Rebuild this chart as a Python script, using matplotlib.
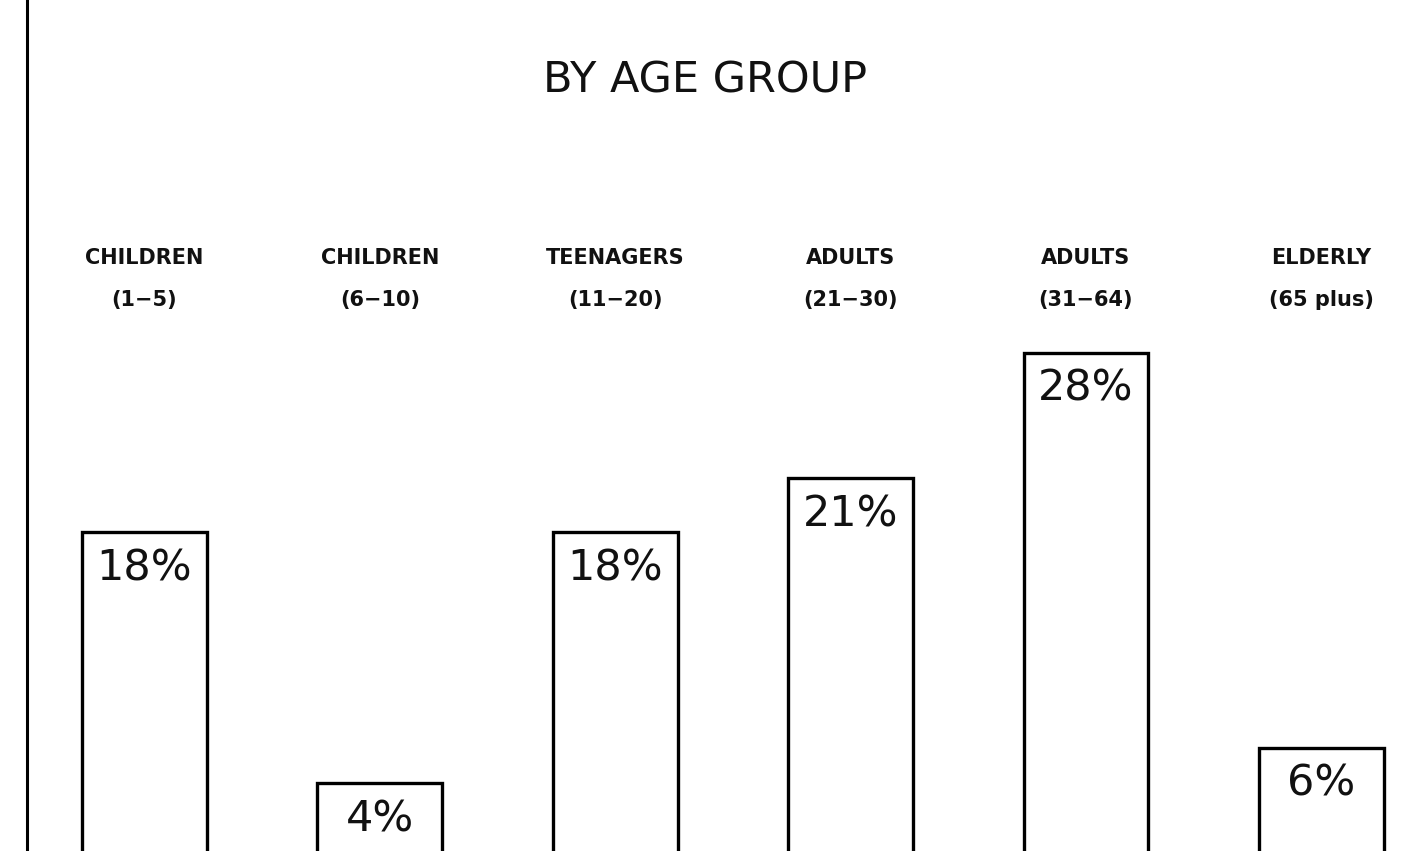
import matplotlib
matplotlib.use("Agg")
from matplotlib import pyplot as plt
from matplotlib import transforms as mtrans

groups = ['CHILDREN', 'CHILDREN', 'TEENAGERS', 'ADULTS', 'ADULTS', 'ELDERLY']
ages = ['(1\u22125)', '(6\u221210)', '(11\u221220)', '(21\u221230)', '(31\u221264)', '(65 plus)']
share = [18, 4, 18, 21, 28, 6]

plt.rcParams['font.family'] = ['DejaVu Sans']

fig = plt.figure(figsize=(14.13, 8.51), dpi=100)
ax = fig.add_axes([0.019, -0.005, 0.981, 1.005])

x = list(range(len(share)))
ax.bar(x, share, width=0.53, color='white', edgecolor='black', linewidth=2.4)

for xi, v in zip(x, share):
    ax.annotate(f'{v}%', (xi, v), xytext=(0, -26), textcoords='offset points',
                ha='center', va='center', fontsize=31, color='#111111')

# category headings above the bars
tr = mtrans.blended_transform_factory(ax.transData, fig.transFigure)
for xi, g, a in zip(x, groups, ages):
    ax.text(xi, 0.697, g, transform=tr, ha='center', va='center',
            fontsize=15, fontweight='bold', color='#111111')
    ax.text(xi, 0.648, a, transform=tr, ha='center', va='center',
            fontsize=15, fontweight='bold', color='#111111')

fig.text(0.499, 0.905, 'BY AGE GROUP', ha='center', va='center',
         fontsize=31, color='#111111')

ax.set_xlim(-0.5, 5.39)
ax.set_ylim(0, 47.66)
ax.set_xticks([])
ax.set_yticks([])
for s in ['top', 'right', 'bottom']:
    ax.spines[s].set_visible(False)
ax.spines['left'].set_linewidth(2.2)

fig.savefig('out.png', dpi=100)
